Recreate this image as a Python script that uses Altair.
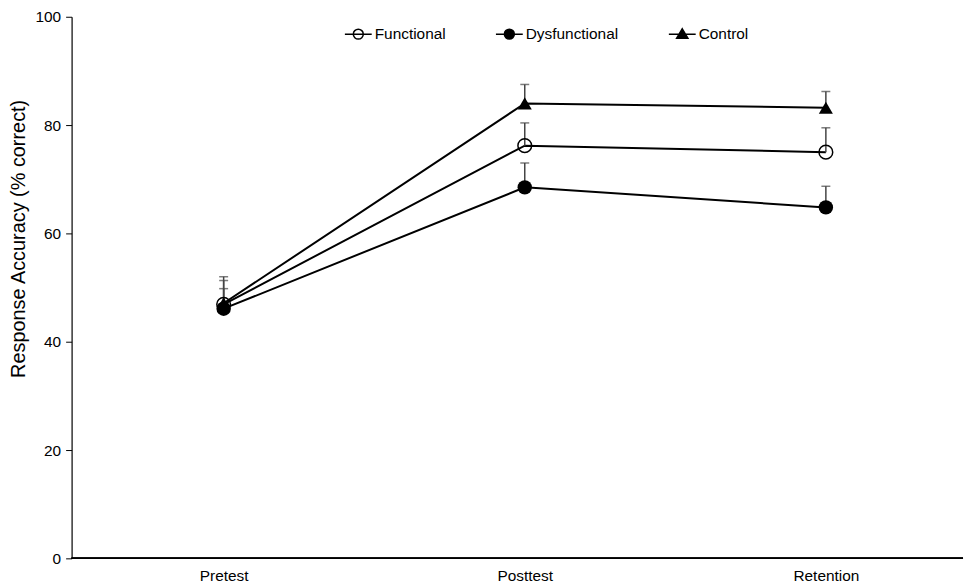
import altair as alt
import pandas as pd

phases = ["Pretest", "Posttest", "Retention"]
groups = ["Functional", "Dysfunctional", "Control"]
functional_mean = [46.9, 76.2, 75.0]
functional_upper = [51.3, 80.4, 79.5]
dysfunctional_mean = [46.1, 68.5, 64.8]
dysfunctional_upper = [49.8, 73.0, 68.7]
control_mean = [47.1, 84.0, 83.2]
control_upper = [52.0, 87.5, 86.2]

rows = []
for g, m, u in [("Functional", functional_mean, functional_upper),
                ("Dysfunctional", dysfunctional_mean, dysfunctional_upper),
                ("Control", control_mean, control_upper)]:
    for p, mv, uv in zip(phases, m, u):
        rows.append({"phase": p, "group": g, "mean": mv, "upper": uv})
df = pd.DataFrame(rows)

FONT = "Liberation Sans"

x_enc = alt.X("phase:N", sort=phases,
              scale=alt.Scale(type="point", padding=0, range=[153, 759]),
              axis=alt.Axis(title=None, labelAngle=0, ticks=False, domain=False,
                            labelFont=FONT, labelFontSize=15.5, labelColor="black",
                            labelPadding=10))
y_scale = alt.Scale(domain=[0, 100])
y_enc = alt.Y("mean:Q", scale=y_scale,
              axis=alt.Axis(title="Response Accuracy (% correct)", values=[0, 20, 40, 60, 80, 100],
                            grid=False, tickSize=6, tickColor="black", domainColor="black",
                            domainWidth=1.2, labelFont=FONT, labelFontSize=15.5, labelColor="black",
                            labelPadding=5, titleFont=FONT, titleFontSize=20,
                            titleFontWeight="normal", titleColor="black", titlePadding=7,
                            titleY=223))

base = alt.Chart(df)

baseline = base.mark_rule(color="black", strokeWidth=1.2).encode(
    y=alt.datum(0), x=alt.value(0), x2=alt.value("width"))

lines = base.mark_line(color="black", strokeWidth=2).encode(
    x=x_enc, y=y_enc, detail="group:N")

err = base.mark_rule(color="#444444", strokeWidth=1.5).encode(
    x=x_enc, y="mean:Q", y2="upper:Q")

caps = base.mark_tick(color="#444444", thickness=1.5, size=9, orient="horizontal").encode(
    x=x_enc, y=alt.Y("upper:Q", scale=y_scale))

pt_func = base.transform_filter(alt.datum.group == "Functional").mark_point(
    shape="circle", filled=False, stroke="black", strokeWidth=1.5, opacity=1, size=190
).encode(x=x_enc, y="mean:Q")

pt_dys = base.transform_filter(alt.datum.group == "Dysfunctional").mark_point(
    shape="circle", filled=True, color="black", opacity=1, size=210
).encode(x=x_enc, y="mean:Q")

pt_ctrl = base.transform_filter(alt.datum.group == "Control").mark_point(
    shape="triangle-up", filled=True, color="black", opacity=1, size=200
).encode(x=x_enc, y="mean:Q")

circ_line = "M-1,0L1,0M-0.37,0A0.37,0.37 0 1,1 0.37,0A0.37,0.37 0 1,1 -0.37,0Z"
tri_line = "M-1,0L1,0M0,-0.4L0.42,0.3L-0.42,0.3Z"

leg_kw = dict(title=None, orient="none", direction="horizontal",
              legendX=274, legendY=3, columnPadding=47,
              symbolSize=729, labelFont=FONT, labelFontSize=15.5,
              labelColor="black", labelOffset=2,
              symbolStrokeColor="black", symbolStrokeWidth=1.5)

legend_layer = base.mark_point(filled=False, stroke="black", strokeWidth=1.5, opacity=1).encode(
    shape=alt.Shape("group:N", scale=alt.Scale(domain=groups, range=[circ_line, circ_line, tri_line]),
                    legend=alt.Legend(**leg_kw)),
    fill=alt.Fill("group:N", scale=alt.Scale(domain=groups, range=["transparent", "black", "black"]),
                  legend=alt.Legend(**leg_kw)),
    stroke=alt.Stroke("group:N", scale=alt.Scale(domain=groups, range=["black", "black", "black"]),
                      legend=alt.Legend(**leg_kw)),
).transform_filter("false")

chart = alt.layer(lines, baseline, err, caps, pt_func, pt_dys, pt_ctrl, legend_layer).properties(
    width=897, height=545,
    padding={"left": 0, "top": 0, "right": 0, "bottom": 0},
    background="white",
).configure_view(stroke=None)

chart.save("out.html", embed_options={"renderer": "svg", "actions": False})
